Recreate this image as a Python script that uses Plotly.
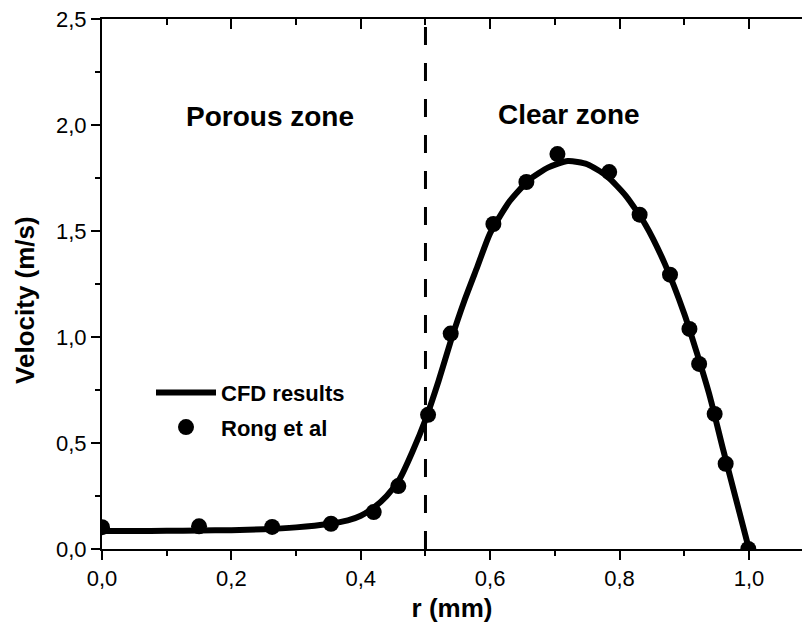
import plotly.graph_objects as go

# CFD results (solid curve)
cfd_r = [0.0, 0.05, 0.10, 0.15, 0.20, 0.25, 0.30, 0.35, 0.38, 0.40, 0.42, 0.44, 0.46, 0.48, 0.50,
         0.52, 0.54, 0.56, 0.58, 0.60, 0.63, 0.66, 0.69, 0.72, 0.75, 0.78, 0.81, 0.84,
         0.87, 0.90, 0.92, 0.94, 0.96, 0.98, 1.00]
cfd_v = [0.085, 0.085, 0.086, 0.087, 0.089, 0.093, 0.102, 0.118, 0.135, 0.157, 0.195, 0.25, 0.33, 0.46, 0.61,
         0.79, 0.99, 1.17, 1.33, 1.49, 1.64, 1.74, 1.80, 1.83, 1.815, 1.76, 1.665, 1.53,
         1.345, 1.11, 0.92, 0.715, 0.47, 0.235, 0.0]

# Rong et al (markers)
rong_r = [0.0, 0.150, 0.263, 0.354, 0.420, 0.458, 0.504, 0.539, 0.605, 0.656, 0.704,
          0.784, 0.831, 0.878, 0.908, 0.923, 0.947, 0.964, 0.999]
rong_v = [0.103, 0.107, 0.104, 0.119, 0.174, 0.297, 0.633, 1.016, 1.533, 1.731, 1.863,
          1.778, 1.577, 1.294, 1.038, 0.873, 0.637, 0.402, 0.0]

interface_r = 0.5
zone_labels = ["Porous zone", "Clear zone"]
zone_label_x = [0.26, 0.722]
zone_label_y = [2.04, 2.05]

FONT = "Liberation Sans, Arial, sans-serif"

fig = go.Figure()
fig.add_trace(go.Scatter(x=cfd_r, y=cfd_v, mode="lines", name="<b>CFD results</b>",
                         line=dict(color="black", width=6, shape="spline", smoothing=0.6),
                         legendgroup="a"))
fig.add_trace(go.Scatter(x=rong_r, y=rong_v, mode="markers", name="<b>Rong et al</b>",
                         marker=dict(color="black", size=16, symbol="circle"),
                         legendgroup="b"))

fig.add_shape(type="line", x0=interface_r, x1=interface_r, y0=0, y1=1, xref="x", yref="paper",
              line=dict(color="black", width=3, dash="18px,18px"))

for t, xx, yy in zip(zone_labels, zone_label_x, zone_label_y):
    fig.add_annotation(x=xx, y=yy, xref="x", yref="y", text="<b>%s</b>" % t, showarrow=False,
                       font=dict(family=FONT, size=28, color="black"))

# y axis title
fig.add_annotation(x=-0.11, y=0.47, xref="paper", yref="paper", text="<b>Velocity (m/s)</b>",
                   textangle=-90, showarrow=False, xanchor="center", yanchor="middle",
                   font=dict(family=FONT, size=26, color="black"))

axis_common = dict(showline=True, linecolor="black", linewidth=2, showgrid=False, zeroline=False,
                   ticks="outside", ticklen=9, tickwidth=2, tickcolor="black",
                   tickfont=dict(family=FONT, size=22, color="black"))

fig.update_layout(
    width=802, height=636,
    margin=dict(l=102, r=0, t=19, b=87),
    paper_bgcolor="white", plot_bgcolor="white",
    separators=", ",
    showlegend=True,
    legend=dict(x=0.07, y=0.262, xanchor="left", yanchor="middle", bgcolor="rgba(0,0,0,0)",
                font=dict(family=FONT, size=22, color="black"), tracegroupgap=3,
                traceorder="grouped", itemwidth=60),
    xaxis=dict(range=[0, 1.082], tickmode="array", tickvals=[0, 0.2, 0.4, 0.6, 0.8, 1.0],
               tickformat=".1f",
               minor=dict(ticks="outside", ticklen=5, tickwidth=2, tickcolor="black",
                          tickvals=[0.1, 0.3, 0.5, 0.7, 0.9]),
               title=dict(text="<b>r (mm)</b>", font=dict(family=FONT, size=26, color="black"), standoff=8),
               **axis_common),
    yaxis=dict(range=[0, 2.5], tickmode="array", tickvals=[0, 0.5, 1.0, 1.5, 2.0, 2.5],
               tickformat=".1f",
               minor=dict(ticks="outside", ticklen=5, tickwidth=2, tickcolor="black",
                          tickvals=[0.25, 0.75, 1.25, 1.75, 2.25]),
               **axis_common),
    xaxis2=dict(overlaying="x", side="top", matches="x", range=[0, 1.082], showline=True, linecolor="black",
                linewidth=2, showgrid=False, zeroline=False, ticks="inside", ticklen=10, tickwidth=2,
                tickcolor="black", showticklabels=False, tickmode="array",
                tickvals=[0, 0.2, 0.4, 0.6, 0.8, 1.0],
                minor=dict(ticks="inside", ticklen=6, tickwidth=2, tickcolor="black",
                           tickvals=[0.1, 0.3, 0.5, 0.7, 0.9])),
)
# invisible trace to activate top axis
fig.add_trace(go.Scatter(x=[0], y=[0], xaxis="x2", mode="markers", marker=dict(opacity=0),
                         showlegend=False, hoverinfo="skip"))

fig.write_html("out.html")
